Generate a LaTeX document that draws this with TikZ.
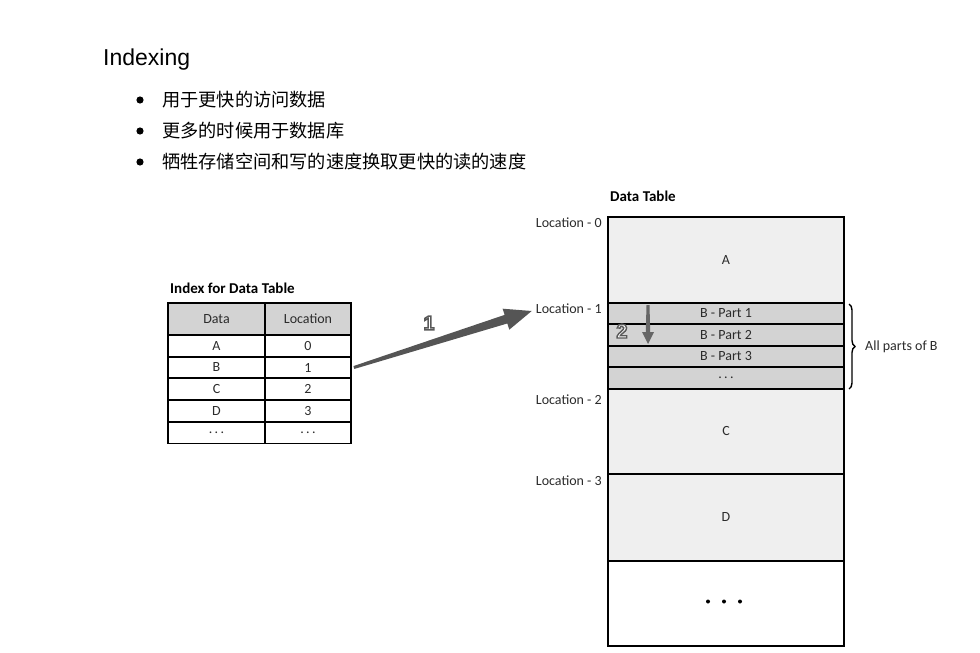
\documentclass[tikz,border=0pt]{standalone}
\usepackage{fontspec}
\setmainfont{Liberation Sans}
\newfontfamily\cjkfont{Noto Sans CJK SC}
\newfontfamily\tabfont{Carlito}
\usepackage{tikz}
\usetikzlibrary{positioning,arrows.meta,calc,decorations.pathreplacing}
\definecolor{cellgray}{HTML}{D3D3D3}
\definecolor{blockgray}{HTML}{EFEFEF}
\definecolor{arrowgray}{HTML}{555555}
\definecolor{tabtext}{HTML}{2B2B2B}
\newcommand{\outlined}[1]{{\color{white}\special{pdf:literal direct 0.35 G 2 Tr 1.4 w}#1\special{pdf:literal direct 0 Tr}}}
\tikzset{
  bullettext/.style={anchor=west, font=\cjkfont\fontsize{18.2}{21}\selectfont, inner sep=0pt},
  tabtitle/.style={anchor=base west, inner sep=0pt, font=\tabfont\bfseries\fontsize{15}{18}\selectfont},
  idxcell/.style={draw, line width=1.8pt, minimum height=22pt, inner sep=0pt, text=tabtext, font=\tabfont\fontsize{14}{16}\selectfont},
  idxhead/.style={idxcell, fill=cellgray, minimum height=32pt},
  blkcell/.style={draw, line width=2pt, minimum width=236pt, inner sep=0pt, text=tabtext, font=\tabfont\fontsize{14}{16}\selectfont},
  loclabel/.style={inner sep=3pt, text=tabtext, font=\tabfont\fontsize{14}{16}\selectfont},
  steplabel/.style={inner sep=0pt, font=\bfseries\fontsize{20}{22}\selectfont}
}
\begin{document}
\begin{tikzpicture}[x=1pt, y=-1pt, >=Latex]
  \useasboundingbox (0,0) rectangle (980,653);
  \node[anchor=base west, inner sep=0pt, font=\fontsize{23}{26}\selectfont] (title) at (103,65) {Indexing};
  \foreach \y/\txt [count=\i] in {100/用于更快的访问数据, 131/更多的时候用于数据库, 162/牺牲存储空间和写的速度换取更快的读的速度} {
    \node[bullettext] (item\i) at (162,\y) {\txt};
    \fill (140,\y) circle (3.6pt);
  }

  % index table
  \node[tabtitle] (idxtitle) at (170,293) {Index for Data Table};
  \node[idxhead, minimum width=97pt] (hdata) at (216.5,319) {Data};
  \node[idxhead, minimum width=86pt] (hloc) at (308,319) {Location};
  \foreach \y/\d/\l [count=\i] in {346/A/0, 367.5/B/1, 389/C/2, 411/D/3, 432.5/.\,.\,./.\,.\,.} {
    \node[idxcell, minimum width=97pt] (d\i) at (216.5,\y) {\d};
    \node[idxcell, minimum width=86pt] (l\i) at (308,\y) {\l};
  }

  % data table
  \node[tabtitle] (dttitle) at (610,201) {Data Table};
  \node[blkcell, fill=blockgray, minimum height=86pt] (blkA) at (726,260) {A};
  \node[blkcell, fill=cellgray, minimum height=21pt] (blkB1) at (726,313.5) {B - Part 1};
  \node[blkcell, fill=cellgray, minimum height=22pt] (blkB2) at (726,335) {B - Part 2};
  \node[blkcell, fill=cellgray, minimum height=21pt] (blkB3) at (726,356.5) {B - Part 3};
  \node[blkcell, fill=cellgray, minimum height=22pt] (blkBd) at (726,378) {.\,.\,.};
  \node[blkcell, fill=blockgray, minimum height=85pt] (blkC) at (726,431.5) {C};
  \node[blkcell, fill=blockgray, minimum height=87pt] (blkD) at (726,517.5) {D};
  \node[blkcell, fill=white, minimum height=85pt] (blkE) at (726,603.5) {};
  \foreach \dx in {-18,-2,14}
    \fill ($(blkE.center)+(\dx,-2)$) circle (2pt);

  \node[loclabel, anchor=east] (loc0) at (605,223) {Location - 0};
  \node[loclabel, anchor=east] (loc1) at (605,309) {Location - 1};
  \node[loclabel, anchor=east] (loc2) at (605,400) {Location - 2};
  \node[loclabel, anchor=east] (loc3) at (605,481) {Location - 3};

  \draw[decorate, decoration={brace, amplitude=6pt}, line width=1.4pt]
    ($(blkB1.north east)+(4,2)$) -- ($(blkBd.south east)+(4,-1)$);
  \node[loclabel, anchor=west] (bparts) at (862,347) {All parts of B};

  % step 1: index -> location
  \coordinate (a1s) at ([xshift=2pt]l2.east);
  \coordinate (a1t) at ([xshift=-1pt,yshift=-2pt]loc1.west);
  \coordinate (a1b) at ($(a1t)!27pt!(a1s)$);
  \fill[arrowgray] ($(a1s)!1.5pt!90:(a1t)$) -- ($(a1b)!4.5pt!90:(a1t)$) -- ($(a1b)!11pt!90:(a1t)$)
    -- (a1t) -- ($(a1b)!11pt!-90:(a1t)$) -- ($(a1b)!4.5pt!-90:(a1t)$) -- ($(a1s)!1.5pt!-90:(a1t)$) -- cycle;
  \node[steplabel] (n1) at (429,323) {\outlined{1}};

  % step 2: read the parts
  \coordinate (a2s) at ($(blkB1.north west)+(41,3)$);
  \coordinate (a2t) at ($(blkB2.south west)+(41,-3)$);
  \coordinate (a2b) at ($(a2t)!12pt!(a2s)$);
  \fill[arrowgray!90!white] ($(a2s)!1.5pt!90:(a2t)$) -- ($(a2b)!2.2pt!90:(a2t)$) -- ($(a2b)!6pt!90:(a2t)$)
    -- (a2t) -- ($(a2b)!6pt!-90:(a2t)$) -- ($(a2b)!2.2pt!-90:(a2t)$) -- ($(a2s)!1.5pt!-90:(a2t)$) -- cycle;
  \node[steplabel] (n2) at (622,331) {\outlined{2}};
\end{tikzpicture}
\end{document}
